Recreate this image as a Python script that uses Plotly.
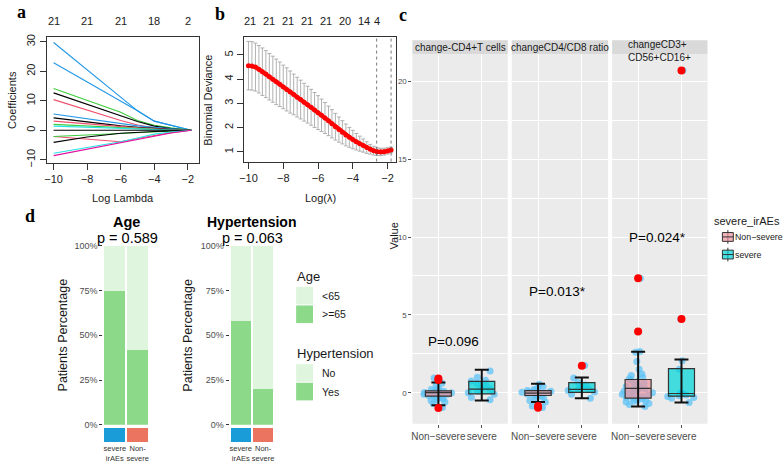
import plotly.graph_objects as go

W, H = 784, 468

# ---------------- panel a : lasso coefficient paths ----------------
a_log_lambda = [-10, -8, -6, -5, -4, -3, -1.8]
coef_blue_1 = [29.8, 20.5, 11.3, 6.6, 3.1, 1.6, 0.0]
coef_blue_2 = [22.9, 16.4, 9.9, 6.6, 3.1, 1.6, 0.0]
coef_green_1 = [14.2, 10.2, 6.1, 3.3, 1.7, 0.8, 0.0]
coef_black_1 = [12.7, 8.8, 5.0, 3.0, 1.4, 0.6, 0.0]
coef_red_1 = [10.4, 6.8, 3.3, 1.8, 0.8, 0.3, 0.0]
coef_blue_3 = [5.5, 3.8, 2.2, 1.5, 1.0, 0.5, 0.0]
coef_black_2 = [4.2, 2.8, 1.5, 1.0, 0.6, 0.3, 0.0]
coef_red_2 = [3.1, 2.1, 1.2, 0.8, 0.5, 0.2, 0.0]
coef_green_2 = [2.0, 1.4, 0.8, 0.5, 0.3, 0.1, 0.0]
coef_cyan_1 = [1.4, 1.0, 0.5, 0.3, 0.2, 0.1, 0.0]
coef_black_3 = [0.0, 0.0, 0.0, 0.0, 0.0, 0.0, 0.0]
coef_red_3 = [-2.1, -3.0, -3.9, -2.8, -1.7, -0.8, 0.0]
coef_green_3 = [-2.1, -1.6, -1.1, -0.7, -0.4, -0.2, 0.0]
coef_black_4 = [-4.1, -2.3, -1.0, -0.6, -0.4, -0.2, 0.0]
coef_cyan_2 = [-7.8, -5.8, -3.9, -2.6, -1.3, -0.6, 0.0]
coef_magenta = [-8.6, -6.4, -4.2, -3.1, -2.0, -0.9, 0.0]
a_top_ticks = [-10, -8, -6, -4, -2]
a_top_labels = ["21", "21", "21", "18", "2"]

# ---------------- panel b : cross-validated deviance ----------------
b_log_lambda = [-10.0, -9.8, -9.6, -9.4, -9.2, -9.0, -8.8, -8.6, -8.4, -8.2,
                -8.0, -7.8, -7.6, -7.4, -7.2, -7.0, -6.8, -6.6, -6.4, -6.2,
                -6.0, -5.8, -5.6, -5.4, -5.2, -5.0, -4.8, -4.6, -4.4, -4.2,
                -4.0, -3.8, -3.6, -3.4, -3.2, -3.0, -2.8, -2.6, -2.4, -2.2,
                -2.0, -1.8]
b_deviance = [4.56, 4.55, 4.50, 4.41, 4.31, 4.21, 4.10, 4.00, 3.89, 3.79,
              3.68, 3.58, 3.47, 3.37, 3.26, 3.16, 3.05, 2.95, 2.84, 2.73,
              2.62, 2.51, 2.40, 2.28, 2.16, 2.04, 1.92, 1.81, 1.70, 1.60,
              1.51, 1.42, 1.34, 1.26, 1.18, 1.11, 1.05, 1.01, 1.00, 1.01,
              1.04, 1.08]
b_dev_se = [1.00, 1.00, 0.99, 0.98, 0.98, 0.97, 0.96, 0.95, 0.94, 0.92,
            0.90, 0.89, 0.87, 0.84, 0.82, 0.80, 0.78, 0.76, 0.74, 0.72,
            0.70, 0.67, 0.64, 0.61, 0.58, 0.55, 0.52, 0.48, 0.45, 0.41,
            0.38, 0.34, 0.31, 0.27, 0.24, 0.20, 0.18, 0.16, 0.15, 0.14,
            0.13, 0.12]
b_top_ticks = [-9.89, -8.8, -7.71, -6.63, -5.54, -4.46, -3.37, -2.63]
b_top_labels = ["21", "21", "21", "21", "21", "20", "14", "4"]
b_lambda_lines = [-2.63, -1.8]

# ---------------- panel c : boxplots per facet ----------------
c_facets = ["change-CD4+T cells", "changeCD4/CD8 ratio", "changeCD3+<br>CD56+CD16+"]
c_groups = ["Non\u2212severe", "severe"]
c_points_non = [
    [-0.7, -0.6, -0.5, -0.45, -0.4, -0.35, -0.3, -0.25, -0.2, -0.2, -0.15, -0.1, -0.1,
     -0.05, 0.0, 0.0, 0.02, 0.05, 0.08, 0.1, 0.12, 0.15, 0.2, 0.3, 0.45, 0.6, 0.85, 0.95, -0.95],
    [-0.95, -0.85, -0.6, -0.5, -0.4, -0.3, -0.25, -0.2, -0.15, -0.1, -0.05, 0.0, 0.0,
     0.03, 0.05, 0.1, 0.12, 0.15, 0.2, 0.3, 0.4, 0.55],
    [-0.88, -0.75, -0.7, -0.6, -0.55, -0.5, -0.45, -0.4, -0.35, -0.3, -0.25, -0.2, -0.15,
     -0.1, -0.05, 0.0, 0.05, 0.1, 0.15, 0.2, 0.25, 0.3, 0.35, 0.4, 0.5, 0.55, 0.6, 0.7,
     0.8, 0.9, 1.0, 1.1, 1.2, 1.5, 2.0, 2.6, 2.65, 3.93, 7.35],
]
c_points_sev = [
    [-0.45, -0.3, -0.1, 0.0, 0.1, 0.2, 0.3, 0.45, 0.6, 0.75, 0.8, 1.0, 1.4],
    [-0.35, -0.1, 0.05, 0.15, 0.2, 0.25, 0.4, 0.5, 0.65, 0.95, 1.75],
    [-0.63, -0.35, -0.3, -0.25, -0.2, -0.15, -0.1, -0.05, 0.0, 1.5, 2.05, 4.73, 20.7],
]
c_q1_non = [-0.22, -0.18, -0.35]
c_med_non = [0.0, -0.02, 0.28]
c_q3_non = [0.12, 0.13, 0.85]
c_lo_non = [-0.8, -0.6, -0.88]
c_hi_non = [0.65, 0.57, 2.63]
c_q1_sev = [-0.08, 0.02, -0.22]
c_med_sev = [0.23, 0.22, -0.05]
c_q3_sev = [0.73, 0.65, 1.55]
c_lo_sev = [-0.5, -0.35, -0.63]
c_hi_sev = [1.47, 0.98, 2.13]
c_out_non = [[0.82, 0.92, -0.98], [-0.85, -0.97], [3.93, 7.35]]
c_out_sev = [[], [1.73], [4.73, 20.7]]
c_pvalues = ["P=0.096", "P=0.013*", "P=0.024*"]
c_pvalue_x = [1.35, 1.45, 1.45]
c_pvalue_y = [3.3, 6.5, 10.0]

# ---------------- panel d : stacked percentages ----------------
d_groups = ["severe<br>irAEs", "Non-<br>severe"]
age_ge65 = [75, 42]
age_lt65 = [25, 58]
htn_yes = [58, 20]
htn_no = [42, 80]
d_strip = [1, 1]
d_ticks = [0, 25, 50, 75, 100]
d_ticklabels = ["0%", "25%", "50%", "75%", "100%"]

# colours
LIGHT_G = "#E0F5DE"
DARK_G = "#8DD98A"
SEV_BLUE = "#1A9CD8"
NON_RED = "#EB7460"
PINK = "rgba(238,150,160,0.72)"
CYAN = "rgba(0,212,216,0.72)"
PT_BLUE = "rgba(95,195,245,0.75)"
FONT = "Liberation Sans, Arial, sans-serif"


def fx(p):
    return p / W


def fy(p):
    return 1 - p / H


fig = go.Figure()

# ---- a ----
a_series = [
    (coef_blue_1, "#2297E6"), (coef_blue_2, "#2297E6"), (coef_green_1, "#3DCC3D"),
    (coef_black_1, "#000000"), (coef_red_1, "#F0506E"), (coef_blue_3, "#2297E6"),
    (coef_black_2, "#000000"), (coef_red_2, "#F0506E"), (coef_green_2, "#3DCC3D"),
    (coef_cyan_1, "#28E2E5"), (coef_black_3, "#000000"), (coef_red_3, "#F0506E"),
    (coef_green_3, "#3DCC3D"), (coef_black_4, "#000000"), (coef_cyan_2, "#28E2E5"),
    (coef_magenta, "#E0119F"),
]
for vals, col in a_series:
    fig.add_trace(go.Scatter(x=a_log_lambda, y=vals, mode="lines",
                             line=dict(color=col, width=1.1), xaxis="x", yaxis="y"))

# ---- b ----
fig.add_trace(go.Scatter(
    x=b_log_lambda, y=b_deviance, mode="markers",
    marker=dict(size=1, color="rgba(0,0,0,0)"),
    error_y=dict(type="data", array=b_dev_se, color="#A8A8A8", thickness=0.9, width=2),
    xaxis="x2", yaxis="y2"))
fig.add_trace(go.Scatter(
    x=b_log_lambda, y=b_deviance, mode="lines+markers",
    line=dict(color="#FF0000", width=4), marker=dict(size=5, color="#FF0000"),
    xaxis="x2", yaxis="y2"))

shapes = []
for lv in b_lambda_lines:
    shapes.append(dict(type="line", xref="x2", yref="y2 domain", x0=lv, x1=lv, y0=0, y1=1,
                       line=dict(color="#555", width=0.8, dash="dot")))

# ---- c ----
c_axes = [("x3", "y3"), ("x4", "y4"), ("x5", "y5")]
for i, (xa, ya) in enumerate(c_axes):
    groups = [
        (1, c_points_non[i], c_q1_non[i], c_med_non[i], c_q3_non[i], c_lo_non[i], c_hi_non[i], c_out_non[i], PINK),
        (2, c_points_sev[i], c_q1_sev[i], c_med_sev[i], c_q3_sev[i], c_lo_sev[i], c_hi_sev[i], c_out_sev[i], CYAN),
    ]
    for pos, pts, q1, med, q3, lo, hi, outs, fill in groups:
        # jittered raw points
        fig.add_trace(go.Box(
            x=[pos] * len(pts), y=pts, boxpoints="all", jitter=1, pointpos=0, width=0.75,
            marker=dict(color=PT_BLUE, size=7), line=dict(width=0),
            fillcolor="rgba(0,0,0,0)", xaxis=xa, yaxis=ya))
        # box
        fig.add_trace(go.Box(
            x=[pos], q1=[q1], median=[med], q3=[q3], lowerfence=[q1], upperfence=[q3],
            width=0.6, fillcolor=fill, line=dict(color="#333333", width=1.2),
            boxpoints=False, xaxis=xa, yaxis=ya))
        # whisker error bar
        fig.add_trace(go.Scatter(
            x=[pos], y=[med], mode="markers", marker=dict(size=1, color="rgba(0,0,0,0)"),
            error_y=dict(type="data", symmetric=False, array=[hi - med], arrayminus=[med - lo],
                         color="#111111", thickness=2, width=7),
            xaxis=xa, yaxis=ya))
        if outs:
            fig.add_trace(go.Scatter(
                x=[pos] * len(outs), y=outs, mode="markers",
                marker=dict(color="#FF0000", size=8), xaxis=xa, yaxis=ya))
    shapes.append(dict(type="rect", xref=f"{xa} domain", yref=f"{ya} domain", x0=0, x1=1, y0=0, y1=1,
                       fillcolor="#EBEBEB", line=dict(width=0), layer="below"))
    shapes.append(dict(type="rect", xref=f"{xa} domain", yref="paper", x0=0, x1=1, y0=fy(50), y1=fy(36),
                       fillcolor="#D9D9D9", line=dict(width=0), layer="below"))

# ---- d ----
for xa, ya, sa, sy, bottom, top in [("x6", "y6", "x7", "y7", age_ge65, age_lt65),
                                    ("x8", "y8", "x9", "y9", htn_yes, htn_no)]:
    fig.add_trace(go.Bar(x=[0, 1], y=bottom, width=0.91, marker=dict(color=DARK_G, line=dict(width=0)),
                         xaxis=xa, yaxis=ya))
    fig.add_trace(go.Bar(x=[0, 1], y=top, width=0.91, marker=dict(color=LIGHT_G, line=dict(width=0)),
                         xaxis=xa, yaxis=ya))
    fig.add_trace(go.Bar(x=[0, 1], y=d_strip, width=0.91, marker=dict(color=[SEV_BLUE, NON_RED], line=dict(width=0)),
                         xaxis=sa, yaxis=sy))

# ---------------- axes ----------------
r_axis = dict(showline=True, mirror=True, linecolor="#333", linewidth=1, ticks="outside", ticklen=6,
              tickcolor="#333", showgrid=False, zeroline=False, tickfont=dict(size=11, color="#222"))
gg_x = dict(range=[0.4, 2.6], tickvals=[1, 2], ticktext=c_groups, tickangle=0, showgrid=True, gridcolor="white",
            gridwidth=1.1, zeroline=False, ticks="outside", ticklen=3, tickcolor="#555",
            tickfont=dict(size=10, color="#4D4D4D"), showline=False)
gg_y = dict(range=[-2.0, 21.76], tickvals=[0, 5, 10, 15, 20], showgrid=True, gridcolor="white",
            gridwidth=1.1, zeroline=False, showline=False,
            minor=dict(tickvals=[2.5, 7.5, 12.5, 17.5], showgrid=True, gridcolor="white", gridwidth=0.5),
            domain=[fy(428), fy(50)])
d_y = dict(range=[0, 100], tickvals=d_ticks, ticktext=d_ticklabels, ticks="outside", ticklen=3,
           tickcolor="#333", tickfont=dict(size=9, color="#4D4D4D"), showgrid=False, zeroline=False,
           domain=[fy(429), fy(246)])
d_x = dict(range=[-0.5, 1.5], showticklabels=False, showgrid=False, zeroline=False)
d_sx = dict(range=[-0.5, 1.5], tickvals=[0, 1], ticktext=d_groups, tickangle=0, ticks="", showgrid=False,
            zeroline=False, tickfont=dict(size=7.5, color="#333"))
d_sy = dict(range=[0, 1], visible=False, domain=[fy(447), fy(432)])

layout_axes = dict(
    xaxis=dict(r_axis, domain=[fx(42), fx(195)], range=[-10.41, -1.35], tickvals=[-10, -8, -6, -4, -2], anchor="y"),
    yaxis=dict(r_axis, domain=[fy(161), fy(33)], range=[-10.96, 31.56], tickvals=[-10, 0, 10, 20, 30],
               tickangle=-90, anchor="x"),
    xaxis2=dict(r_axis, domain=[fx(241), fx(394)], range=[-10.23, -1.49], tickvals=[-10, -8, -6, -4, -2], anchor="y2"),
    yaxis2=dict(r_axis, domain=[fy(160), fy(33)], range=[0.6, 5.73], tickvals=[1, 2, 3, 4, 5],
                tickangle=-90, anchor="x2"),
    xaxis3=dict(gg_x, domain=[fx(410), fx(506)], anchor="y3"),
    yaxis3=dict(gg_y, anchor="x3", ticks="outside", ticklen=3, tickcolor="#555",
                tickfont=dict(size=8, color="#4D4D4D")),
    xaxis4=dict(gg_x, domain=[fx(510), fx(607)], anchor="y4"),
    yaxis4=dict(gg_y, anchor="x4", showticklabels=False),
    xaxis5=dict(gg_x, domain=[fx(611), fx(707)], anchor="y5"),
    yaxis5=dict(gg_y, anchor="x5", showticklabels=False),
    xaxis6=dict(d_x, domain=[fx(99), fx(145)], anchor="y6"),
    yaxis6=dict(d_y, anchor="x6"),
    xaxis7=dict(d_sx, domain=[fx(99), fx(145)], anchor="y7"),
    yaxis7=dict(d_sy, anchor="x7"),
    xaxis8=dict(d_x, domain=[fx(226), fx(271)], anchor="y8"),
    yaxis8=dict(d_y, anchor="x8"),
    xaxis9=dict(d_sx, domain=[fx(226), fx(271)], anchor="y9"),
    yaxis9=dict(d_sy, anchor="x9"),
)


# ---------------- text ----------------
def txt(text, x, y, size=11, xref="paper", yref="paper", color="#1A1A1A", **kw):
    d = dict(text=text, x=x, y=y, xref=xref, yref=yref, showarrow=False,
             xanchor="center", yanchor="middle",
             font=dict(size=size, color=color, family=kw.pop("family", FONT)))
    d.update(kw)
    return d


serif = "Liberation Serif, Times New Roman, serif"
annotations = [
    txt("<b>a</b>", fx(17), fy(7), size=18, family=serif, color="#000"),
    txt("<b>b</b>", fx(216), fy(9), size=18, family=serif, color="#000"),
    txt("<b>c</b>", fx(401), fy(10), size=18, family=serif, color="#000"),
    txt("<b>d</b>", fx(25), fy(216), size=18, family=serif, color="#000"),
    txt("Log Lambda", fx(119), fy(197), size=11),
    txt("Log(\u03bb)", fx(318), fy(197), size=11),
    txt("Coefficients", fx(7), fy(97), size=11, textangle=-90),
    txt("Binomial Deviance", fx(204), fy(97), size=11, textangle=-90),
    txt("Value", fx(391), fy(236), size=11, textangle=-90),
    txt("Patients Percentage", fx(58), fy(337), size=12.5, textangle=-90),
    txt("Patients Percentage", fx(184), fy(337), size=12.5, textangle=-90),
    txt("<b>Age</b>", fx(122), fy(222), size=14.5, color="#000"),
    txt("p = 0.589", fx(123), fy(238), size=14.5, color="#000"),
    txt("<b>Hypertension</b>", fx(248), fy(222), size=14, color="#000"),
    txt("p = 0.063", fx(249), fy(238), size=14.5, color="#000"),
]
for tv, tl in zip(a_top_ticks, a_top_labels):
    annotations.append(txt(tl, tv, fy(16), xref="x", size=11))
for tv, tl in zip(b_top_ticks, b_top_labels):
    annotations.append(txt(tl, tv, fy(16), xref="x2", size=11))
for i, (xa, ya) in enumerate(c_axes):
    annotations.append(txt(c_pvalues[i], c_pvalue_x[i], c_pvalue_y[i], xref=xa, yref=ya, size=13.5, color="#000"))
    sy = 47 if "<br>" in c_facets[i] else 43
    annotations.append(txt(c_facets[i], 0.5, fy(sy), xref=f"{xa} domain", size=10, align="left"))

# manual legends
annotations += [
    txt("severe_irAEs", fx(712), fy(221), size=11, xanchor="left"),
    txt(c_groups[0], fx(733), fy(237), size=8.8, xanchor="left"),
    txt(c_groups[1], fx(733), fy(255), size=8.8, xanchor="left"),
    txt("Age", fx(292), fy(277), size=13, xanchor="left"),
    txt("<65", fx(317), fy(297), size=10.5, xanchor="left"),
    txt(">=65", fx(317), fy(316), size=10.5, xanchor="left"),
    txt("Hypertension", fx(292), fy(356), size=13, xanchor="left"),
    txt("No", fx(317), fy(376), size=10.5, xanchor="left"),
    txt("Yes", fx(317), fy(395), size=10.5, xanchor="left"),
]


def key_rect(x0, x1, y0, y1, fill, line=None):
    return dict(type="rect", xref="paper", yref="paper", x0=fx(x0), x1=fx(x1), y0=fy(y1), y1=fy(y0),
                fillcolor=fill, line=dict(width=1 if line else 0, color=line or fill))


for yc, fill in [(237, PINK), (255, CYAN)]:
    shapes.append(dict(type="line", xref="paper", yref="paper", x0=fx(727.5), x1=fx(727.5),
                       y0=fy(yc + 7), y1=fy(yc - 7), line=dict(color="#333", width=1)))
    shapes.append(key_rect(722, 733, yc - 4.5, yc + 4.5, fill, "#333"))
    shapes.append(dict(type="line", xref="paper", yref="paper", x0=fx(722), x1=fx(733),
                       y0=fy(yc), y1=fy(yc), line=dict(color="#333", width=1)))
shapes += [
    key_rect(293, 310, 288, 306, LIGHT_G),
    key_rect(293, 310, 307, 325, DARK_G),
    key_rect(293, 310, 367, 385, LIGHT_G),
    key_rect(293, 310, 386, 404, DARK_G),
]

fig.update_layout(
    width=W, height=H, margin=dict(l=0, r=0, t=0, b=0),
    paper_bgcolor="white", plot_bgcolor="rgba(0,0,0,0)",
    font=dict(family=FONT, color="#1A1A1A"),
    showlegend=False, barmode="stack", boxmode="overlay",
    annotations=annotations, shapes=shapes,
    **layout_axes,
)

# the page's default body margin would shift the figure by 8px
fig.write_html("out.html", config={"displayModeBar": False},
               post_script="document.body.style.margin='0';")
